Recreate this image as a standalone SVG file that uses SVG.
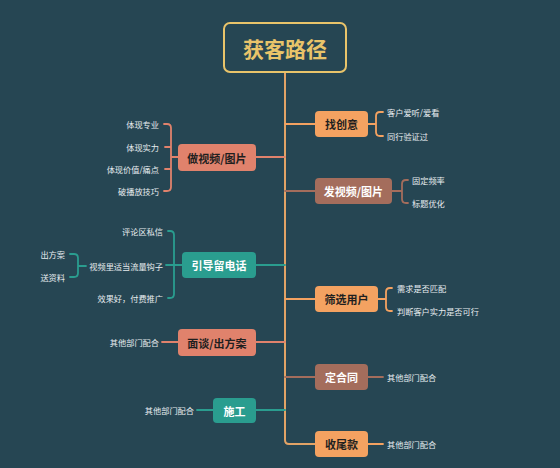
<svg xmlns="http://www.w3.org/2000/svg" width="560" height="468" viewBox="0 0 560 468">
<style>
.t{font-family:"Noto Sans CJK SC","Noto Sans",sans-serif}
.node{font-size:11px;font-weight:bold;text-anchor:middle;dominant-baseline:central}
.dark{fill:#1f1f1f}
.light{fill:#ffffff}
.leaf{font-size:8.2px;fill:#e6ecef;dominant-baseline:central}
.r{text-anchor:start}
.l{text-anchor:end}
.c{fill:none;stroke-width:1.8;stroke-linecap:round;stroke-linejoin:round}
.or{stroke:#f4a261}
.sa{stroke:#e0826c}
.br{stroke:#a46d5c}
.te{stroke:#2a9d8f}
</style>
<rect width="560" height="468" fill="#264653"/>
<g id="connectors">
<path class="c" d="M285,72 V440 Q285,444 289,444 H315" stroke="#e2a366" style="stroke-width:2"/>
<path class="c or" d="M285,124 H315"/>
<path class="c br" d="M285,191 H315"/>
<path class="c or" d="M285,299 H315"/>
<path class="c br" d="M285,377 H315"/>
<path class="c sa" d="M285,157 H256"/>
<path class="c te" d="M285,265 H256"/>
<path class="c sa" d="M285,342 H256"/>
<path class="c te" d="M285,410 H256"/>
<!-- 找创意 children -->
<path class="c or" d="M368,124 H376 M383,112 H380 Q376,112 376,116 V132 Q376,136 380,136 H383"/>
<!-- 发视频 children -->
<path class="c br" d="M392,191 H402 M408,180 H406 Q402,180 402,184 V199 Q402,203 406,203 H408"/>
<!-- 筛选用户 children -->
<path class="c or" d="M378,299 H386 M392,288 H390 Q386,288 386,292 V307 Q386,311 390,311 H392"/>
<path class="c br" d="M368,377 H383"/>
<path class="c or" d="M368,444 H383"/>
<!-- 做视频 children -->
<path class="c sa" d="M178,157 H171 M164,124 H167 Q171,124 171,128 V187 Q171,191 167,191 H164 M171,147 H165 M171,169 H165"/>
<!-- 引导留电话 children -->
<path class="c te" d="M182,265 H166 M168,231 H170 Q174,231 174,235 V294 Q174,298 170,298 H168"/>
<path class="c te" d="M86,266 H78 M70,254 H74 Q78,254 78,258 V273 Q78,277 74,277 H70"/>
<path class="c sa" d="M178,342 H162"/>
<path class="c te" d="M213,410 H197"/>
</g>
<g id="root">
<rect x="224" y="23" width="122" height="49" rx="6" fill="#264653" stroke="#e9c46a" stroke-width="2"/>
<text class="t" x="285" y="48" font-size="21" font-weight="bold" fill="#e9c46a" text-anchor="middle" dominant-baseline="central">获客路径</text>
</g>
<g id="n-zcy">
<rect x="315" y="111" width="53" height="26" rx="4" fill="#f4a261"/>
<text class="t node dark" x="341.5" y="124">找创意</text>
<text class="t leaf r" x="387" y="112">客户爱听/爱看</text>
<text class="t leaf r" x="387" y="136">同行验证过</text>
</g>
<g id="n-fsp">
<rect x="315" y="178" width="77" height="26" rx="4" fill="#a46d5c"/>
<text class="t node light" x="353.5" y="191">发视频/图片</text>
<text class="t leaf r" x="412" y="180">固定频率</text>
<text class="t leaf r" x="412" y="203">标题优化</text>
</g>
<g id="n-sxyh">
<rect x="315" y="286" width="63" height="26" rx="4" fill="#f4a261"/>
<text class="t node dark" x="346.5" y="299">筛选用户</text>
<text class="t leaf r" x="397" y="288">需求是否匹配</text>
<text class="t leaf r" x="397" y="311">判断客户实力是否可行</text>
</g>
<g id="n-dht">
<rect x="315" y="364" width="53" height="26" rx="4" fill="#a46d5c"/>
<text class="t node light" x="341.5" y="377">定合同</text>
<text class="t leaf r" x="387" y="377">其他部门配合</text>
</g>
<g id="n-swk">
<rect x="315" y="431" width="53" height="26" rx="4" fill="#f4a261"/>
<text class="t node dark" x="341.5" y="444">收尾款</text>
<text class="t leaf r" x="387" y="444">其他部门配合</text>
</g>
<g id="n-zsp">
<rect x="178" y="144" width="78" height="27" rx="4" fill="#e0826c"/>
<text class="t node dark" x="217" y="157.5">做视频/图片</text>
<text class="t leaf l" x="159" y="124">体现专业</text>
<text class="t leaf l" x="159" y="147">体现实力</text>
<text class="t leaf l" x="159" y="169">体现价值/痛点</text>
<text class="t leaf l" x="159" y="191">破播放技巧</text>
</g>
<g id="n-ydldh">
<rect x="182" y="252" width="74" height="26" rx="4" fill="#2a9d8f"/>
<text class="t node light" x="219" y="265">引导留电话</text>
<text class="t leaf l" x="163" y="231">评论区私信</text>
<text class="t leaf l" x="163" y="266">视频里适当流量钩子</text>
<text class="t leaf l" x="163" y="298">效果好，付费推广</text>
<text class="t leaf l" x="65" y="254">出方案</text>
<text class="t leaf l" x="65" y="277">送资料</text>
</g>
<g id="n-mt">
<rect x="178" y="329" width="78" height="27" rx="4" fill="#e0826c"/>
<text class="t node dark" x="217" y="342.5">面谈/出方案</text>
<text class="t leaf l" x="159" y="342">其他部门配合</text>
</g>
<g id="n-sg">
<rect x="213" y="398" width="43" height="25" rx="4" fill="#2a9d8f"/>
<text class="t node light" x="234.5" y="410.5">施工</text>
<text class="t leaf l" x="194" y="410">其他部门配合</text>
</g>
</svg>
